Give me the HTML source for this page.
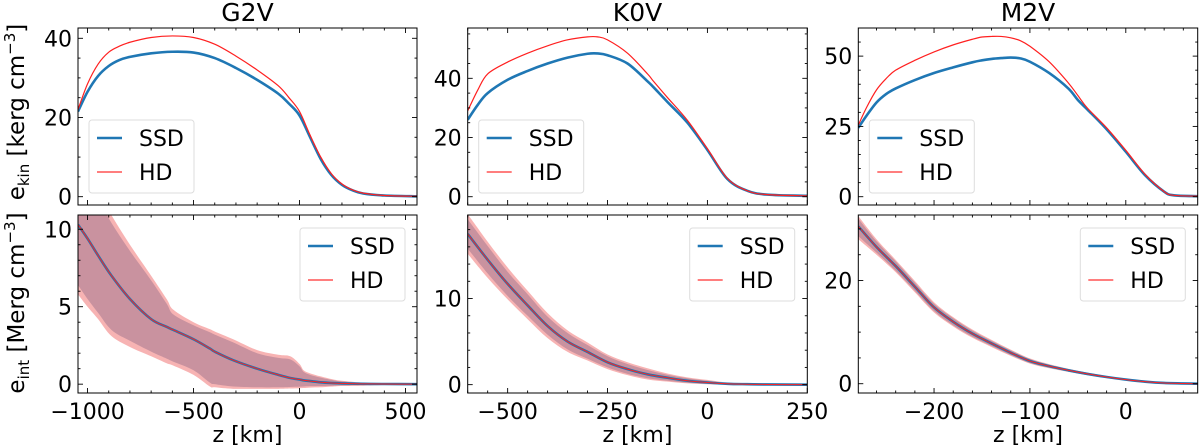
<!DOCTYPE html>
<html><head><meta charset="utf-8"><style>
html,body{margin:0;padding:0;background:#fff}
svg{display:block;font-family:"DejaVu Sans","Liberation Sans",sans-serif}
</style></head><body>
<svg id="chart" width="1200" height="447" viewBox="0 0 1200 447" xmlns="http://www.w3.org/2000/svg"></svg>
<script>
// ---------- G2V ----------
const g2vTopZ   = [-1045,-1000,-950,-900,-850,-800,-700,-600,-500,-400,-300,-200,-100,-50,0,50,100,150,200,250,300,400,555];
const g2vTopSSD = [21.5,26.5,30.5,33,34.5,35.3,36.2,36.6,36.4,35,32.5,29.5,26,23.5,20.5,15,9.5,5.5,3,1.6,0.8,0.3,0.1];
const g2vTopHD  = [22,28.5,33.5,36.5,38,39,40.2,40.6,40.2,38.5,35.5,32,28,25,21.5,15.5,10,5.8,3.2,1.7,0.9,0.3,0.1];
const g2vBotZ    = [-1045,-1000,-950,-887,-800,-700,-627,-595,-500,-423,-400,-313,-200,-100,-44,0,19,50,100,160,200,300,400,555];
const g2vBotMean = [10.3,9.4,8.3,7.0,5.5,4.2,3.7,3.5,2.9,2.3,2.1,1.55,1.0,0.6,0.4,0.3,0.25,0.2,0.12,0.07,0.05,0.02,0.01,0];
const g2vHDUp    = [14,13.5,12.5,10.9,9,7,5.5,4.8,4,3.55,3.4,2.9,2.2,1.9,1.8,1.3,0.9,0.7,0.5,0.3,0.22,0.1,0.05,0];
const g2vHDLo    = [5.8,5.0,4.2,3.1,2.4,1.8,1.35,1.2,0.6,-0.15,-0.2,-0.3,-0.3,-0.3,-0.28,-0.26,-0.25,-0.22,-0.2,-0.15,-0.12,-0.1,-0.05,0];
const g2vSSDUp   = [13.5,13,12,10.4,8.6,6.7,5.2,4.5,3.8,3.35,3.2,2.7,2.0,1.7,1.6,1.15,0.8,0.6,0.42,0.25,0.18,0.08,0.04,0];
const g2vSSDLo   = [6.4,5.5,4.6,3.5,2.8,2.1,1.65,1.45,0.9,0.1,0.0,-0.15,-0.2,-0.2,-0.18,-0.16,-0.15,-0.13,-0.12,-0.1,-0.08,-0.06,-0.03,0];
// ---------- K0V ----------
const k0vTopZ   = [-600,-575,-550,-500,-450,-400,-350,-300,-275,-250,-200,-150,-135,-100,-50,0,50,100,150,250];
const k0vTopSSD = [26,31,35,39.5,42.5,45,47,48.3,48.4,47.8,45,39,37,32,25,15.8,6,2,0.7,0.3];
const k0vTopHD  = [29,36,41.5,45.5,48.5,51,53,54,54,53,48.5,41.5,39,33.5,25.8,16.2,6.2,2,0.7,0.3];
const k0vBotZ    = [-600,-550,-500,-450,-400,-350,-300,-250,-200,-150,-100,-50,0,50,100,150,250];
const k0vBotMean = [17.5,14.5,11.7,9.2,6.8,5.0,3.8,2.6,1.8,1.2,0.8,0.45,0.25,0.1,0.05,0.02,0];
const k0vHDUp    = [19.8,16.6,13.6,10.9,8.3,6.3,4.9,3.5,2.6,1.9,1.3,0.85,0.55,0.25,0.12,0.05,0];
const k0vHDLo    = [15.2,12.4,9.9,7.6,5.4,3.8,2.8,1.8,1.1,0.6,0.35,0.15,0.05,0,-0.02,-0.02,0];
const k0vSSDUp   = [19.2,16.1,13.1,10.5,7.9,6.0,4.6,3.3,2.4,1.7,1.15,0.75,0.45,0.2,0.1,0.04,0];
const k0vSSDLo   = [15.8,12.9,10.3,8.0,5.8,4.1,3.0,2.0,1.25,0.75,0.45,0.2,0.08,0.02,0,-0.01,0];
// ---------- M2V ----------
const m2vTopZ   = [-279,-270,-260,-250,-240,-220,-200,-180,-160,-150,-140,-130,-120,-110,-100,-80,-60,-50,-40,-20,0,20,40,50,75];
const m2vTopSSD = [24.5,29,33.5,36.5,38.5,41.5,44,46,47.8,48.5,49,49.3,49.5,49.2,48,44,38.5,34.4,31,24,16,7.7,1.8,0.5,0.2];
const m2vTopHD  = [25.5,32,38,42,45,48.5,51.5,54,56,56.8,57,57,56.5,55.5,53.5,48,40.5,36,31.5,24.5,16.5,8,1.8,0.5,0.2];
const m2vBotZ    = [-279,-260,-240,-220,-200,-180,-160,-140,-120,-100,-80,-60,-40,-20,0,20,40,75];
const m2vBotMean = [30.5,26.5,22.8,18.8,14.8,12.0,9.7,7.8,6.0,4.4,3.4,2.6,1.9,1.3,0.8,0.4,0.15,0];
const m2vHDUp    = [32.5,28,24,19.9,15.8,12.9,10.5,8.5,6.6,4.9,3.8,2.9,2.15,1.5,0.95,0.5,0.2,0];
const m2vHDLo    = [28,25,21.6,17.7,13.8,11.1,8.9,7.1,5.4,3.9,3.0,2.3,1.65,1.1,0.65,0.3,0.1,0];
const m2vSSDUp   = [32,27.6,23.7,19.6,15.5,12.7,10.3,8.3,6.45,4.8,3.7,2.85,2.1,1.45,0.92,0.48,0.19,0];
const m2vSSDLo   = [28.6,25.4,21.9,18.0,14.1,11.3,9.1,7.3,5.55,4.0,3.1,2.35,1.7,1.15,0.68,0.32,0.11,0];

const titles = ["G2V","K0V","M2V"];
const xTicksG2V = [-1000,-500,0,500], xTicksK0V = [-500,-250,0,250], xTicksM2V = [-200,-100,0];
const topTicksG2V = [0,20,40], topTicksK0V = [0,20,40], topTicksM2V = [0,25,50];
const botTicksG2V = [0,5,10], botTicksK0V = [0,10], botTicksM2V = [0,20];

const NS="http://www.w3.org/2000/svg";
const svg=document.getElementById('chart');
function mk(tag,attrs,parent){const e=document.createElementNS(NS,tag);for(const k in attrs)e.setAttribute(k,attrs[k]);(parent||svg).appendChild(e);return e;}
function lin(d0,d1,r0,r1){return v=>r0+(v-d0)*(r1-r0)/(d1-d0);}

const panels=[
 {x0:78,x1:417,xd:[-1045,554],xt:xTicksG2V,xm:100,
  top:{yd:[-2.1,42.6],t:topTicksG2V,m:5,z:g2vTopZ,ssd:g2vTopSSD,hd:g2vTopHD},
  bot:{yd:[-0.57,10.92],t:botTicksG2V,m:1,z:g2vBotZ,mean:g2vBotMean,hu:g2vHDUp,hl:g2vHDLo,su:g2vSSDUp,sl:g2vSSDLo}},
 {x0:467.7,x1:807.3,xd:[-600,250],xt:xTicksK0V,xm:50,
  top:{yd:[-2.8,57],t:topTicksK0V,m:5,z:k0vTopZ,ssd:k0vTopSSD,hd:k0vTopHD},
  bot:{yd:[-0.97,19.7],t:botTicksK0V,m:2,z:k0vBotZ,mean:k0vBotMean,hu:k0vHDUp,hl:k0vHDLo,su:k0vSSDUp,sl:k0vSSDLo}},
 {x0:858.3,x1:1197.7,xd:[-279,75],xt:xTicksM2V,xm:20,
  top:{yd:[-2.95,60],t:topTicksM2V,m:5,z:m2vTopZ,ssd:m2vTopSSD,hd:m2vTopHD},
  bot:{yd:[-1.8,32.7],t:botTicksM2V,m:5,z:m2vBotZ,mean:m2vBotMean,hu:m2vHDUp,hl:m2vHDLo,su:m2vSSDUp,sl:m2vSSDLo}}
];
const TOP=[28,205], BOT=[215,393];

// Catmull-Rom smoothing through the data points
function smooth(pts,start){
 let d=start?'M'+pts[0][0].toFixed(2)+','+pts[0][1].toFixed(2):'L'+pts[0][0].toFixed(2)+','+pts[0][1].toFixed(2);
 for(let i=0;i<pts.length-1;i++){
  const p0=pts[Math.max(i-1,0)],p1=pts[i],p2=pts[i+1],p3=pts[Math.min(i+2,pts.length-1)];
  const c1x=p1[0]+(p2[0]-p0[0])/6,c1y=p1[1]+(p2[1]-p0[1])/6;
  const c2x=p2[0]-(p3[0]-p1[0])/6,c2y=p2[1]-(p3[1]-p1[1])/6;
  d+='C'+c1x.toFixed(2)+','+c1y.toFixed(2)+' '+c2x.toFixed(2)+','+c2y.toFixed(2)+' '+p2[0].toFixed(2)+','+p2[1].toFixed(2);
 }
 return d;
}
function linePath(z,v,X,Y){return smooth(z.map((zz,i)=>[X(zz),Y(v[i])]),true);}
function bandPath(z,up,lo,X,Y){
 const a=z.map((zz,i)=>[X(zz),Y(up[i])]);
 const b=z.map((zz,i)=>[X(zz),Y(lo[i])]).reverse();
 return smooth(a,true)+smooth(b,false)+'Z';
}

function ticks(g,X,Y,x0,x1,y0,y1,xd,yd,xt,xm,yt,ym,showX,showY){
 const tk=mk('g',{stroke:'#000','stroke-width':0.9},g);
 
 
 for(let v=Math.ceil(xd[0]/xm)*xm;v<=xd[1];v+=xm){const px=X(v);const major=xt.includes(v);const L=major?5:2.5;
  mk('line',{x1:px,x2:px,y1:y1,y2:y1-L},tk);mk('line',{x1:px,x2:px,y1:y0,y2:y0+L},tk);}
 for(let v=Math.ceil(yd[0]/ym)*ym;v<=yd[1];v+=ym){const py=Y(v);const major=yt.includes(v);const L=major?5:2.5;
  mk('line',{x1:x0,x2:x0+L,y1:py,y2:py},tk);mk('line',{x1:x1,x2:x1-L,y1:py,y2:py},tk);}
 if(showY) yt.forEach(v=>{const t=mk('text',{x:x0-6,y:Y(v)+8,'text-anchor':'end','font-size':22},g);t.textContent=v;
  });
 if(showX) xt.forEach(v=>{const t=mk('text',{x:X(v),y:y1+26,'text-anchor':'middle','font-size':22},g);t.textContent=(v<0?'\u2212'+(-v):v);
  });
}
function legend(g,x,y){
 const lg=mk('g',{},g);
 
 
 mk('rect',{x:x,y:y,width:105,height:73,rx:3,fill:'#fff','fill-opacity':0.8,stroke:'#ddd','stroke-width':1},lg);
 mk('line',{x1:x+8,x2:x+33,y1:y+18,y2:y+18,stroke:'#1f77b4','stroke-width':2.6},lg);
 let t=mk('text',{x:x+50,y:y+26,'font-size':22},lg);t.textContent='SSD';
 
 mk('line',{x1:x+8,x2:x+33,y1:y+52,y2:y+52,stroke:'#ff3030','stroke-width':1.2},lg);
 t=mk('text',{x:x+50,y:y+60,'font-size':22},lg);t.textContent='HD';
 
}

panels.forEach((p,i)=>{
 const X=lin(p.xd[0],p.xd[1],p.x0,p.x1);
 const gt=mk('g',{});
 
 
 const Yt=lin(p.top.yd[0],p.top.yd[1],TOP[1],TOP[0]);
 const cp=mk('clipPath',{id:'ct'+i},gt);mk('rect',{x:p.x0,y:TOP[0],width:p.x1-p.x0,height:TOP[1]-TOP[0]},cp);
 const cg=mk('g',{'clip-path':'url(#ct'+i+')'},gt);
 let l=mk('path',{d:linePath(p.top.z,p.top.ssd,X,Yt),fill:'none',stroke:'#1f77b4','stroke-width':2.6,'stroke-linejoin':'round'},cg);
 
 l=mk('path',{d:linePath(p.top.z,p.top.hd,X,Yt),fill:'none',stroke:'#ff2020','stroke-width':1.2,'stroke-linejoin':'round'},cg);
 
 mk('rect',{x:p.x0,y:TOP[0],width:p.x1-p.x0,height:TOP[1]-TOP[0],fill:'none',stroke:'#000','stroke-width':1},gt);
 ticks(gt,X,Yt,p.x0,p.x1,TOP[0],TOP[1],p.xd,p.top.yd,p.xt,p.xm,p.top.t,p.top.m,false,true);
 legend(gt,p.x0+11,120);
 let t=mk('text',{x:(p.x0+p.x1)/2,y:21,'text-anchor':'middle','font-size':25},gt);t.textContent=titles[i];
 
 const gb=mk('g',{});
 
 
 const Yb=lin(p.bot.yd[0],p.bot.yd[1],BOT[1],BOT[0]);
 const cp2=mk('clipPath',{id:'cb'+i},gb);mk('rect',{x:p.x0,y:BOT[0],width:p.x1-p.x0,height:BOT[1]-BOT[0]},cp2);
 const cg2=mk('g',{'clip-path':'url(#cb'+i+')'},gb);
 l=mk('path',{d:bandPath(p.bot.z,p.bot.hu,p.bot.hl,X,Yb),fill:'#f7b3b3',stroke:'none'},cg2);
 
 l=mk('path',{d:bandPath(p.bot.z,p.bot.su,p.bot.sl,X,Yb),fill:'#c9929f',stroke:'none'},cg2);
 
 l=mk('path',{d:linePath(p.bot.z,p.bot.mean,X,Yb),fill:'none',stroke:'#1f77b4','stroke-width':2.6},cg2);
 
 l=mk('path',{d:linePath(p.bot.z,p.bot.mean,X,Yb),fill:'none',stroke:'#ff2020','stroke-width':1},cg2);
 
 mk('rect',{x:p.x0,y:BOT[0],width:p.x1-p.x0,height:BOT[1]-BOT[0],fill:'none',stroke:'#000','stroke-width':1},gb);
 ticks(gb,X,Yb,p.x0,p.x1,BOT[0],BOT[1],p.xd,p.bot.yd,p.xt,p.xm,p.bot.t,p.bot.m,true,true);
 legend(gb,p.x0+222,228);
 t=mk('text',{x:(p.x0+p.x1)/2,y:442,'text-anchor':'middle','font-size':22},gb);t.textContent='z [km]';
 
});
let yt=mk('text',{x:0,y:0,'text-anchor':'middle','font-size':23,transform:'translate(24,112) rotate(-90)'});
yt.innerHTML='e<tspan font-size="15" dy="5">kin</tspan><tspan dy="-5"> [kerg cm</tspan><tspan font-size="15" dy="-9">−3</tspan><tspan dy="9">]</tspan>';

yt=mk('text',{x:0,y:0,'text-anchor':'middle','font-size':23,transform:'translate(24,303) rotate(-90)'});
yt.innerHTML='e<tspan font-size="15" dy="5">int</tspan><tspan dy="-5"> [Merg cm</tspan><tspan font-size="15" dy="-9">−3</tspan><tspan dy="9">]</tspan>';

</script>
</body></html>
